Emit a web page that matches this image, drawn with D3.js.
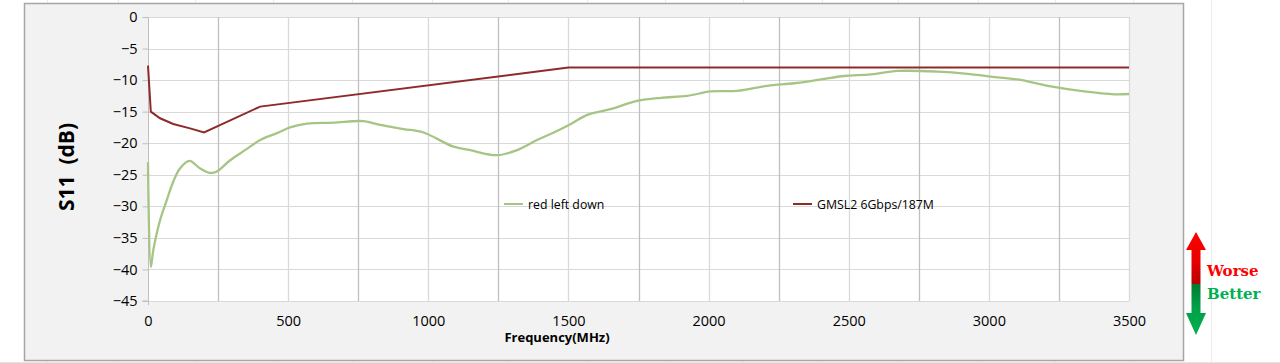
<!DOCTYPE html>
<html>
<head>
<meta charset="utf-8">
<script src="https://d3js.org/d3.v7.min.js"></script>
<style>
  body { margin: 0; background: #fff; }
  svg { display: block; font-family: "Open Sans", sans-serif; }
</style>
</head>
<body>
<div id="chart"></div>
<script>
// measured return loss (green) and the GMSL2 mask (red)
var measFreq = [0, 10, 19, 43, 67, 90, 114, 148, 186, 221, 245, 293, 346, 400, 460, 507, 567, 661, 769, 829,
  912, 983, 1090, 1150, 1245, 1317, 1388, 1448, 1507, 1567, 1650, 1745, 1829, 1924, 2007, 2102, 2210, 2305,
  2400, 2483, 2579, 2674, 2817, 2924, 3007, 3102, 3221, 3340, 3448, 3500];
var measDb = [-23, -39.6, -36.9, -32.2, -29, -26.1, -24, -22.8, -24, -24.7, -24.5, -22.7, -21.1, -19.5, -18.4, -17.5, -16.9, -16.75, -16.5, -17.1,
  -17.75, -18.3, -20.55, -21.1, -21.9, -21.1, -19.5, -18.3, -17.0, -15.5, -14.6, -13.3, -12.8, -12.5, -11.8, -11.7, -10.9, -10.5,
  -9.9, -9.35, -9.1, -8.55, -8.65, -9.0, -9.45, -9.9, -11.0, -11.8, -12.25, -12.2];

var maskFreq = [0, 10, 43, 90, 150, 200, 400, 1500, 3500];
var maskDb = [-7.7, -15.0, -16.05, -16.95, -17.65, -18.3, -14.2, -8, -8];

var xTicks = [0, 500, 1000, 1500, 2000, 2500, 3000, 3500];
var xGrid = d3.range(0, 3501, 250);
var yTicks = [0, -5, -10, -15, -20, -25, -30, -35, -40, -45];
var seriesNames = ["red left down", "GMSL2 6Gbps/187M"];
var sheetCols = [47, 118, 195, 273, 352, 432, 508, 587, 665, 743, 822, 898, 978, 1055, 1133, 1211];

var W = 1280, H = 363;
var svg = d3.select("#chart").append("svg").attr("width", W).attr("height", H);

// faint spreadsheet cell lines behind the chart
svg.selectAll(".col").data(sheetCols).enter().append("line")
  .attr("x1", d => d + 0.5).attr("x2", d => d + 0.5).attr("y1", 0).attr("y2", H)
  .attr("stroke", "#ececec");
svg.append("line").attr("x1", 0).attr("x2", W).attr("y1", 362.5).attr("y2", 362.5).attr("stroke", "#e4e4e4");

// chart area
svg.append("rect").attr("x", 24.5).attr("y", 3.5).attr("width", 1159).attr("height", 357)
  .attr("fill", "#f2f2f2").attr("stroke", "#a6a6a6").attr("stroke-width", 1.5);

var x = d3.scaleLinear().domain([0, 3500]).range([148, 1129]);
var y = d3.scaleLinear().domain([-45, 0]).range([301, 17]);

// plot area
svg.append("rect").attr("x", x(0)).attr("y", y(0)).attr("width", x(3500) - x(0)).attr("height", y(-45) - y(0))
  .attr("fill", "#fff");

svg.append("g").selectAll("line").data(yTicks).enter().append("line")
  .attr("x1", x(0)).attr("x2", x(3500))
  .attr("y1", d => Math.round(y(d)) + 0.5).attr("y2", d => Math.round(y(d)) + 0.5)
  .attr("stroke", "#d9d9d9").attr("stroke-width", 1.2);

svg.append("g").selectAll("line").data(xGrid.slice(1)).enter().append("line")
  .attr("x1", d => Math.round(x(d)) + 0.5).attr("x2", d => Math.round(x(d)) + 0.5)
  .attr("y1", y(0)).attr("y2", y(-45))
  .attr("stroke", d => d % 500 === 0 ? "#d9d9d9" : "#bfbfbf").attr("stroke-width", 1.3);

// y axis
var yAxis = svg.append("g").attr("transform", "translate(" + (x(0) + 0.5) + ",0)")
  .call(d3.axisLeft(y).tickValues(yTicks).tickSize(6).tickPadding(5).tickFormat(d3.format("d")));
yAxis.select(".domain").attr("stroke", "#bfbfbf").attr("d", "M-6," + y(-45) + "H0V" + y(0));
yAxis.selectAll(".tick line").attr("stroke", "#bfbfbf");
yAxis.selectAll("text").attr("font-size", 14.5).attr("fill", "#000").attr("font-family", "Open Sans");
svg.append("line").attr("x1", x(0) + 0.5).attr("x2", x(0) + 0.5).attr("y1", y(-45)).attr("y2", y(-45) + 4)
  .attr("stroke", "#bfbfbf");

// x axis labels
var xAxis = svg.append("g").attr("transform", "translate(0," + y(-45) + ")")
  .call(d3.axisBottom(x).tickValues(xTicks).tickSize(0).tickPadding(15).tickFormat(d3.format("d")));
xAxis.select(".domain").remove();
xAxis.selectAll("text").attr("font-size", 14.5).attr("fill", "#000").attr("font-family", "Open Sans");

svg.append("text").attr("x", 557).attr("y", 342).attr("text-anchor", "middle")
  .attr("font-size", 13).attr("font-weight", "bold").text("Frequency(MHz)");

svg.append("text").attr("transform", "translate(74,167) rotate(-90)").attr("text-anchor", "middle")
  .attr("font-size", 21).attr("font-weight", "bold").style("white-space", "pre").text("S11  (dB)");

// lines
var meas = measFreq.map((f, i) => [f, measDb[i]]);
var mask = maskFreq.map((f, i) => [f, maskDb[i]]);

svg.append("path").datum(meas)
  .attr("d", d3.line().x(d => x(d[0])).y(d => y(d[1])).curve(d3.curveCatmullRom.alpha(0.5)))
  .attr("fill", "none").attr("stroke", "#a6c585").attr("stroke-width", 2.3);

svg.append("path").datum(mask)
  .attr("d", d3.line().x(d => x(d[0])).y(d => y(d[1])))
  .attr("fill", "none").attr("stroke", "#8e2a2a").attr("stroke-width", 2);

// legend
var legendX = [504, 793], legendColors = ["#a6c585", "#8e2a2a"];
seriesNames.forEach(function (name, i) {
  svg.append("line").attr("x1", legendX[i]).attr("x2", legendX[i] + 19).attr("y1", 204).attr("y2", 204)
    .attr("stroke", legendColors[i]).attr("stroke-width", 2);
  svg.append("text").attr("x", legendX[i] + 24).attr("y", 208.5).attr("font-size", 12.3).text(name);
});

// worse / better arrow
var defs = svg.append("defs");
var gr = defs.append("linearGradient").attr("id", "gRed").attr("x1", 0).attr("x2", 0).attr("y1", 0).attr("y2", 1);
gr.append("stop").attr("offset", "0%").attr("stop-color", "#ff0000");
gr.append("stop").attr("offset", "55%").attr("stop-color", "#e80000");
gr.append("stop").attr("offset", "100%").attr("stop-color", "#b80000");
var gg = defs.append("linearGradient").attr("id", "gGreen").attr("x1", 0).attr("x2", 0).attr("y1", 0).attr("y2", 1);
gg.append("stop").attr("offset", "0%").attr("stop-color", "#007a33");
gg.append("stop").attr("offset", "45%").attr("stop-color", "#00a046");
gg.append("stop").attr("offset", "100%").attr("stop-color", "#00b050");

var cx = 1196;
svg.append("path").attr("fill", "url(#gRed)")
  .attr("d", "M" + cx + ",232L" + (cx + 10) + ",250H" + (cx + 4.5) + "V284H" + (cx - 4.5) + "V250H" + (cx - 10) + "Z");
svg.append("path").attr("fill", "url(#gGreen)")
  .attr("d", "M" + (cx - 4.5) + ",284H" + (cx + 4.5) + "V313H" + (cx + 10) + "L" + cx + ",335L" + (cx - 10) + ",313H" + (cx - 4.5) + "Z");

svg.append("text").attr("x", 1207).attr("y", 276).attr("font-family", "DejaVu Serif").attr("font-weight", "bold")
  .attr("font-size", 15).attr("fill", "#ff0000").text("Worse");
svg.append("text").attr("x", 1207).attr("y", 299).attr("font-family", "DejaVu Serif").attr("font-weight", "bold")
  .attr("font-size", 15).attr("fill", "#00b050").text("Better");
</script>
</body>
</html>
